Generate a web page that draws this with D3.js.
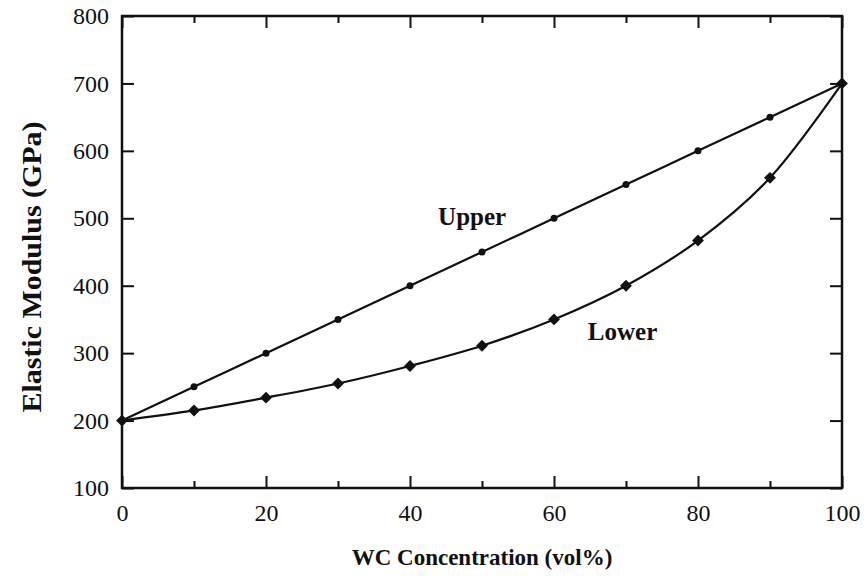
<!DOCTYPE html>
<html>
<head>
<meta charset="utf-8">
<script src="https://cdn.jsdelivr.net/npm/d3@7"></script>
<style>
  body { margin: 0; background: #fff; }
</style>
</head>
<body>
<div id="chart"></div>
<script>
const wcConc = [0, 10, 20, 30, 40, 50, 60, 70, 80, 90, 100];
const upperModulus = [200, 250, 300, 350, 400, 450, 500, 550, 600, 650, 700];
const lowerModulus = [200, 215, 234, 255, 281, 311, 350, 400, 467, 560, 700];
const xTicks = [0, 20, 40, 60, 80, 100];
const xMinorTicks = [10, 30, 50, 70, 90];
const yTicks = [100, 200, 300, 400, 500, 600, 700, 800];

const serif = "'Liberation Serif', 'Times New Roman', Times, serif";

const margin = {top: 16, right: 24, bottom: 88, left: 122};
const width = 866 - margin.left - margin.right;
const height = 576 - margin.top - margin.bottom;

const svg = d3.select("#chart")
    .append("svg")
    .attr("width", 866)
    .attr("height", 576)
  .append("g")
    .attr("transform", `translate(${margin.left},${margin.top})`);

const x = d3.scaleLinear().domain([0, 100]).range([0, width]);
const y = d3.scaleLinear().domain([100, 800]).range([height, 0]);

// ticks on all four sides, pointing inward
function styleAxis(g) {
    g.attr("font-family", serif);
    g.select(".domain").remove();
    g.selectAll(".tick line").attr("stroke", "#111").attr("stroke-width", 2);
    g.selectAll(".tick text")
        .style("font-family", serif)
        .style("font-size", "24px")
        .attr("fill", "#111");
}

svg.append("g")
    .attr("transform", `translate(0,${height})`)
    .call(d3.axisBottom(x).tickValues(xTicks).tickSizeInner(-12).tickPadding(16).tickFormat(d3.format("d")))
    .call(styleAxis);

svg.append("g")
    .attr("transform", `translate(0,${height})`)
    .call(d3.axisBottom(x).tickValues(xMinorTicks).tickSize(-7).tickFormat(""))
    .call(styleAxis);

svg.append("g")
    .call(d3.axisTop(x).tickValues(xTicks).tickSize(-12).tickFormat(""))
    .call(styleAxis);

svg.append("g")
    .call(d3.axisTop(x).tickValues(xMinorTicks).tickSize(-7).tickFormat(""))
    .call(styleAxis);

svg.append("g")
    .call(d3.axisLeft(y).tickValues(yTicks).tickSizeInner(-12).tickPadding(13))
    .call(styleAxis);

svg.append("g")
    .attr("transform", `translate(${width},0)`)
    .call(d3.axisRight(y).tickValues(yTicks).tickSize(-12).tickFormat(""))
    .call(styleAxis);

svg.append("rect")
    .attr("width", width)
    .attr("height", height)
    .attr("fill", "none")
    .attr("stroke", "#111")
    .attr("stroke-width", 2.5);

const upper = wcConc.map((c, i) => ({c: c, e: upperModulus[i]}));
const lower = wcConc.map((c, i) => ({c: c, e: lowerModulus[i]}));

const line = d3.line()
    .x(d => x(d.c))
    .y(d => y(d.e))
    .curve(d3.curveCatmullRom);

svg.append("path")
    .datum(upper)
    .attr("d", line)
    .attr("fill", "none")
    .attr("stroke", "#111")
    .attr("stroke-width", 2.2);

svg.append("path")
    .datum(lower)
    .attr("d", line)
    .attr("fill", "none")
    .attr("stroke", "#111")
    .attr("stroke-width", 2.2);

svg.selectAll(".dot")
    .data(upper.slice(1, -1))
    .enter()
    .append("circle")
    .attr("cx", d => x(d.c))
    .attr("cy", d => y(d.e))
    .attr("r", 3.5)
    .attr("fill", "#111");

svg.selectAll(".diamond")
    .data(lower)
    .enter()
    .append("path")
    .attr("transform", d => `translate(${x(d.c)},${y(d.e)})`)
    .attr("d", d3.symbol().type(d3.symbolDiamond2).size(90))
    .attr("fill", "#111");

function label(txt, px, py, size) {
    return svg.append("text")
        .attr("x", px)
        .attr("y", py)
        .style("font-family", serif)
        .style("font-size", size + "px")
        .style("font-weight", "bold")
        .attr("fill", "#111")
        .text(txt);
}

label("Upper", x(43.9), 209, 25);
label("Lower", x(64.7), 324, 25);

label("WC Concentration (vol%)", width / 2, height + 77, 23)
    .attr("text-anchor", "middle");

label("Elastic Modulus (GPa)", 0, 0, 27)
    .attr("transform", `translate(${-margin.left + 41},${height / 2 + 15}) rotate(-90)`)
    .attr("text-anchor", "middle")
    .attr("textLength", 291)
    .attr("lengthAdjust", "spacingAndGlyphs");
</script>
</body>
</html>
